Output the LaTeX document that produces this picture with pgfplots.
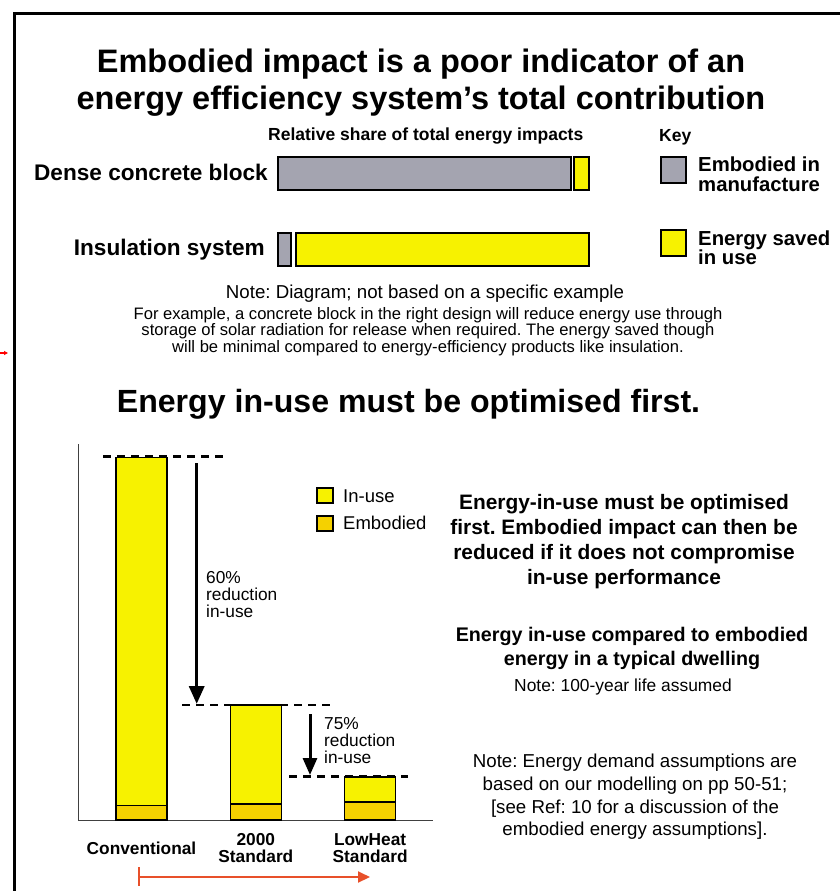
\documentclass[border=0pt]{standalone}
\usepackage{fontspec}
\setmainfont{Liberation Sans}
\usepackage{pgfplots}
\pgfplotsset{compat=1.18}
\usetikzlibrary{arrows.meta}
\definecolor{ygl}{RGB}{247,242,0}
\definecolor{gold}{RGB}{245,209,0}
\definecolor{gry}{RGB}{164,164,176}
\definecolor{redarr}{RGB}{232,80,42}
\newcommand{\fs}[1]{\fontsize{#1}{#1}\selectfont}
\frenchspacing
\begin{document}
\begin{tikzpicture}[x=1pt,y=-1pt]
\path[use as bounding box] (0,0) rectangle (840,891);
\clip (0,0) rectangle (840,891);
\fill[white] (0,0) rectangle (840,891);
\draw[line width=3pt] (14,900) -- (14,14) -- (850,14);
\draw[red, line width=1.5pt, -{Triangle[length=4pt,width=4pt]}] (0,353) -- (8,353);

% ---------- top chart ----------
\node[anchor=base, inner sep=0] at (421,73) {\bfseries\fs{32.5}Embodied impact is a poor indicator of an};
\node[anchor=base, inner sep=0] at (421,109) {\bfseries\fs{32.5}energy efficiency system’s total contribution};
\node[anchor=base west, inner sep=0] at (268,140) {\bfseries\fs{17.5}Relative share of total energy impacts};
\node[anchor=base west, inner sep=0] at (659,141) {\bfseries\fs{17.5}Key};
\node[anchor=base east, inner sep=0] at (268,180) {\bfseries\fs{22.6}Dense concrete block};
\node[anchor=base east, inner sep=0] at (265,255) {\bfseries\fs{22.6}Insulation system};

\begin{axis}[at={(278pt,-287.5pt)}, anchor=south west, scale only axis,
  width=311pt, height=152pt, xmin=0, xmax=311, ymin=-0.5, ymax=1.5,
  hide axis, xbar stacked, bar width=33pt, clip=false]
\addplot[fill=gry, draw=black, line width=2pt] coordinates {(293,1) (13,0)};
\addplot[draw=none, fill=none] coordinates {(3,1) (5,0)};
\addplot[fill=ygl, draw=black, line width=2pt] coordinates {(15,1) (293,0)};
\end{axis}

\draw[fill=gry, line width=2.2pt] (661,157) rectangle (686,183);
\draw[fill=ygl, line width=2.2pt] (661,230) rectangle (686,256);
\node[anchor=base west, inner sep=0] at (698,171) {\bfseries\fs{20.3}Embodied in};
\node[anchor=base west, inner sep=0] at (698,191) {\bfseries\fs{20.3}manufacture};
\node[anchor=base west, inner sep=0] at (698,245) {\bfseries\fs{20.3}Energy saved};
\node[anchor=base west, inner sep=0] at (698,264) {\bfseries\fs{20.3}in use};

\node[anchor=base, inner sep=0] at (425,298) {\fs{18.7}Note: Diagram; not based on a specific example};
\node[anchor=base, inner sep=0] at (428,319) {\fs{16.6}For example, a concrete block in the right design will reduce energy use through};
\node[anchor=base, inner sep=0] at (428,335.5) {\fs{16.6}storage of solar radiation for release when required. The energy saved though};
\node[anchor=base, inner sep=0] at (428,352) {\fs{16.6}will be minimal compared to energy-efficiency products like insulation.};

% ---------- bottom chart ----------
\node[anchor=base, inner sep=0] at (408.5,412) {\bfseries\fs{32.1}Energy in-use must be optimised first.};

\begin{axis}[at={(78pt,-820pt)}, anchor=south west, scale only axis,
  width=355pt, height=376pt,
  xmin=-0.5556, xmax=2.55, ymin=0, ymax=376,
  ybar stacked, bar width=51pt,
  axis x line=bottom, axis y line=left,
  axis line style={-, line width=1pt, black!75},
  xtick={0,1,2},
  xticklabels={Conventional,{2000\\Standard},{LowHeat\\Standard}},
  xticklabel style={align=center, font=\bfseries\fontsize{17.3}{17.3}\selectfont, anchor=center, yshift=-28pt},
  major tick length=0pt, ytick=\empty, clip=false]
\addplot[fill=gold, draw=black, line width=1.5pt] coordinates {(0,14.5) (1,16) (2,18)};
\addplot[fill=ygl, draw=black, line width=1.5pt] coordinates {(0,348) (1,99) (2,25)};
\end{axis}

\draw[line width=2.3pt, dash pattern=on 8pt off 6pt] (103,456.5) -- (223,456.5);
\draw[line width=2.3pt, dash pattern=on 8pt off 6pt] (182,705) -- (330,705);
\draw[line width=2.3pt, dash pattern=on 8pt off 6pt] (289,776.5) -- (408,776.5);
\draw[line width=3.5pt, -{Triangle[length=18pt,width=15pt]}] (196.7,463) -- (196.7,704);
\draw[line width=3pt, -{Triangle[length=17pt,width=14pt]}] (310,714) -- (310,775);

\node[anchor=base west, inner sep=0] at (206,583) {\fs{17.3}60\%};
\node[anchor=base west, inner sep=0] at (206,600) {\fs{17.3}reduction};
\node[anchor=base west, inner sep=0] at (206,617) {\fs{17.3}in-use};
\node[anchor=base west, inner sep=0] at (324,729) {\fs{17.3}75\%};
\node[anchor=base west, inner sep=0] at (324,746) {\fs{17.3}reduction};
\node[anchor=base west, inner sep=0] at (324,763) {\fs{17.3}in-use};

\draw[fill=ygl, line width=1.3pt] (317,488) rectangle (333,503);
\draw[fill=gold, line width=1.3pt] (317,516) rectangle (333,531);
\node[anchor=base west, inner sep=0] at (343,502) {\fs{18.5}In-use};
\node[anchor=base west, inner sep=0] at (343,529) {\fs{18.5}Embodied};

\draw[redarr, line width=2pt, -{Triangle[length=12pt,width=11pt]}] (139,877) -- (370,877);
\draw[redarr, line width=2pt] (139,867) -- (139,886);

% ---------- right texts ----------
\node[anchor=base, inner sep=0] at (624,509) {\bfseries\fs{20.9}Energy-in-use must be optimised};
\node[anchor=base, inner sep=0] at (624,534) {\bfseries\fs{20.9}first. Embodied impact can then be};
\node[anchor=base, inner sep=0] at (624,559) {\bfseries\fs{20.9}reduced if it does not compromise};
\node[anchor=base, inner sep=0] at (624,584) {\bfseries\fs{20.9}in-use performance};
\node[anchor=base, inner sep=0] at (632,641) {\bfseries\fs{19.7}Energy in-use compared to embodied};
\node[anchor=base, inner sep=0] at (632,665) {\bfseries\fs{19.7}energy in a typical dwelling};
\node[anchor=base, inner sep=0] at (623,691) {\fs{17.4}Note: 100-year life assumed};
\node[anchor=base, inner sep=0] at (635,767) {\fs{18.7}Note: Energy demand assumptions are};
\node[anchor=base, inner sep=0] at (635,790) {\fs{18.7}based on our modelling on pp 50-51;};
\node[anchor=base, inner sep=0] at (635,813) {\fs{18.7}[see Ref: 10 for a discussion of the};
\node[anchor=base, inner sep=0] at (635,835) {\fs{18.7}embodied energy assumptions].};
\end{tikzpicture}
\end{document}
